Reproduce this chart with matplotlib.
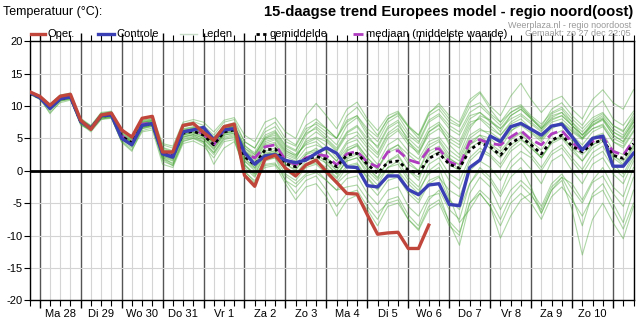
import numpy as np
import matplotlib
matplotlib.use('Agg')
import matplotlib.pyplot as plt

plt.rcParams['font.family'] = ['Liberation Sans', 'DejaVu Sans']

# 6-hourly steps, starting Sunday 27 dec 18:00
day_labels = ['Ma 28', 'Di 29', 'Wo 30', 'Do 31', 'Vr 1', 'Za 2', 'Zo 3',
              'Ma 4', 'Di 5', 'Wo 6', 'Do 7', 'Vr 8', 'Za 9', 'Zo 10']

oper = [12.2, 11.5, 10.1, 11.5, 11.8, 7.8, 6.4, 8.6, 8.9, 6.3,
        5.2, 8.1, 8.4, 2.9, 2.9, 7.0, 7.3, 5.9, 4.7, 6.8,
        7.2, -0.7, -2.4, 1.8, 2.4, 0.4, -0.8, 0.9, 1.65, -0.15,
        -1.8, -3.5, -3.6, -6.8, -9.8, -9.6, -9.5, -12.0, -12.0, -8.4]

controle = [12.1, 11.3, 9.6, 11.1, 11.4, 7.6, 6.5, 8.5, 8.6, 5.0,
            4.0, 7.0, 7.3, 2.6, 2.1, 6.0, 6.3, 6.7, 4.8, 6.3,
            6.5, 2.8, 1.0, 2.3, 2.5, 1.6, 1.25, 1.65, 2.7, 3.55,
            2.7, 0.6, 0.5, -2.3, -2.5, -0.8, -0.8, -2.9, -3.7, -2.2,
            -2.0, -5.2, -5.4, 0.5, 1.65, 5.35, 4.5, 6.8, 7.3, 6.4,
            5.5, 6.9, 7.2, 5.25, 3.2, 5.0, 5.35, 0.7, 0.7, 2.7]

gemiddelde = [12.0, 11.3, 9.8, 11.1, 11.4, 7.6, 6.6, 8.4, 8.6, 5.3,
              4.3, 7.0, 7.3, 2.7, 2.2, 5.8, 6.1, 5.5, 4.0, 6.0,
              6.3, 2.2, 0.9, 3.2, 3.4, 1.1, 0.6, 1.8, 2.2, 1.8,
              0.6, 2.4, 2.7, 1.0, -0.4, 1.3, 1.5, 0.1, -0.4, 1.9,
              2.7, 1.0, 0.4, 3.2, 4.3, 3.7, 2.4, 4.2, 5.2, 4.0,
              2.6, 4.7, 5.5, 3.8, 2.9, 4.2, 4.8, 2.4, 1.9, 4.2]

mediaan = [12.1, 11.4, 9.9, 11.2, 11.5, 7.7, 6.6, 8.5, 8.7, 5.4,
           4.3, 7.2, 7.4, 2.8, 2.3, 6.0, 6.3, 5.7, 4.0, 6.2,
           6.5, 2.6, 2.0, 3.7, 4.0, 1.7, 0.9, 2.0, 2.5, 2.3,
           0.9, 2.6, 3.0, 1.3, 0.6, 2.9, 3.1, 1.7, 1.2, 3.3,
           3.4, 1.4, 0.7, 4.5, 4.8, 4.2, 4.0, 5.2, 6.2, 4.8,
           4.0, 5.7, 6.2, 4.4, 3.0, 4.5, 5.2, 3.0, 2.4, 4.7]

# ensemble members (Leden), read by eye
leden = [
    [12.2, 11.4, 10.0, 11.5, 11.7, 7.9, 6.8, 8.9, 9.1, 6.0, 5.0, 7.8, 8.1, 4.0, 3.5, 7.2, 7.6, 7.0, 5.5, 7.5, 7.9,
     4.5, 3.5, 6.0, 6.8, 4.5, 3.8, 6.5, 7.2, 6.0, 5.0, 7.8, 8.5, 6.5, 5.2, 8.0, 8.8, 6.8, 5.5, 8.5, 9.5,
     7.5, 6.8, 9.8, 10.5, 8.8, 7.5, 9.6, 10.2, 8.5, 7.2, 9.0, 9.8, 8.0, 6.5, 8.2, 9.0, 7.0, 6.2, 8.3],
    [11.8, 11.0, 9.0, 10.5, 10.9, 7.2, 6.2, 8.0, 8.2, 4.6, 3.5, 6.2, 6.6, 1.5, 0.8, 4.6, 5.0, 4.2, 2.5, 4.8, 5.2,
     0.0, -1.8, 1.0, 1.2, -1.5, -2.5, -0.8, -0.3, -1.5, -3.0, -1.2, -0.8, -3.5, -5.2, -3.0, -2.5, -5.5, -7.0, -4.0, -3.5,
     -8.0, -11.5, -5.0, -3.0, -4.5, -7.5, -4.0, -2.2, -3.8, -6.0, -2.5, -1.0, -4.0, -8.5, -3.5, -2.0, -5.0, -8.0, -3.0],
    [12.0, 11.2, 9.7, 11.0, 11.3, 7.5, 6.5, 8.4, 8.5, 5.2, 4.2, 6.9, 7.2, 2.5, 2.0, 5.6, 6.0, 5.8, 4.2, 6.2, 6.5,
     2.5, 1.2, 3.6, 4.0, 1.8, 1.0, 2.8, 3.2, 2.0, 0.8, 3.2, 3.8, 1.5, 0.2, 2.8, 3.5, 1.0, 0.0, 3.0, 3.8,
     1.8, 1.0, 4.0, 5.0, 4.2, 3.0, 5.0, 6.0, 4.5, 3.2, 5.5, 6.2, 4.6, 3.5, 5.2, 5.8, 3.2, 2.5, 5.0],
    [12.1, 11.4, 9.9, 11.3, 11.6, 7.7, 6.4, 8.5, 8.8, 5.6, 4.6, 7.3, 7.7, 2.2, 1.8, 5.2, 5.5, 4.5, 2.8, 5.2, 5.6,
     -0.5, -2.0, 0.8, 1.0, -0.8, -2.0, -0.5, 0.2, -1.5, -3.0, -2.5, -2.2, -4.5, -6.5, -5.0, -4.5, -7.5, -9.2, -6.0, -5.0,
     -8.5, -10.0, -3.5, -1.0, -2.5, -6.0, -3.0, -1.5, -3.0, -5.5, -2.0, -0.5, -2.8, -5.0, -1.8, -0.8, -3.5, -5.5, -1.0],
    [11.9, 11.2, 9.5, 10.9, 11.2, 7.4, 6.7, 8.2, 8.4, 5.0, 3.9, 6.6, 7.0, 3.0, 2.6, 6.2, 6.5, 6.5, 5.2, 6.8, 7.0,
     4.0, 2.5, 5.0, 5.5, 3.2, 2.2, 4.2, 5.0, 3.8, 2.0, 4.5, 5.5, 3.5, 2.0, 5.0, 6.2, 4.0, 2.8, 5.5, 6.5,
     4.5, 3.5, 7.0, 8.2, 7.0, 5.5, 7.2, 8.0, 6.5, 5.0, 6.8, 7.5, 6.0, 4.8, 6.5, 7.2, 5.0, 4.2, 6.8],
    [12.0, 11.3, 9.8, 11.2, 11.5, 7.8, 6.9, 8.8, 8.9, 5.5, 4.5, 7.5, 7.8, 3.5, 2.9, 6.8, 7.2, 6.2, 4.5, 6.5, 6.8,
     3.2, 2.0, 4.8, 5.2, 3.0, 2.4, 5.5, 6.8, 5.5, 4.0, 7.0, 8.2, 5.5, 3.5, 6.5, 7.5, 4.5, 2.5, 6.0, 7.2,
     4.0, 2.5, 6.5, 8.5, 7.8, 6.0, 8.5, 9.5, 8.0, 6.5, 8.8, 9.5, 7.5, 5.5, 7.0, 8.0, 5.5, 4.5, 7.5],
    [12.1, 11.3, 9.4, 10.8, 11.2, 7.3, 6.3, 8.1, 8.3, 4.8, 3.8, 6.5, 6.8, 1.8, 1.2, 5.0, 5.3, 4.8, 3.2, 5.5, 5.8,
     1.0, -0.5, 2.2, 2.5, 0.0, -1.0, 1.0, 1.5, 0.2, -1.2, 0.8, 1.2, -1.0, -2.8, -0.5, 0.0, -3.0, -4.5, -1.5, -0.8,
     -4.5, -6.0, -2.0, 0.0, -1.5, -4.0, -1.0, 0.5, -2.5, -6.5, -3.0, -1.5, -6.0, -13.0, -7.5, -5.0, -8.0, -10.5, -5.5],
    [12.2, 11.5, 10.2, 11.6, 11.9, 8.0, 6.8, 8.7, 9.0, 5.8, 4.8, 7.6, 7.9, 3.2, 2.6, 6.5, 6.8, 6.0, 4.6, 6.6, 7.0,
     3.5, 2.2, 5.2, 6.0, 3.8, 3.0, 6.0, 7.5, 6.5, 5.0, 8.5, 9.8, 7.5, 5.5, 8.0, 9.0, 6.8, 5.0, 8.8, 10.4,
     8.5, 7.5, 11.0, 12.2, 10.0, 8.5, 11.5, 13.5, 11.0, 9.0, 10.8, 11.5, 9.5, 8.0, 11.0, 12.5, 10.5, 9.5, 12.5],
    [11.9, 11.1, 9.6, 10.9, 11.1, 7.4, 6.4, 8.2, 8.3, 5.0, 4.0, 6.8, 7.0, 2.2, 1.6, 5.3, 5.6, 5.0, 3.5, 5.7, 6.0,
     1.5, 0.3, 2.8, 3.0, 0.5, -0.5, 1.5, 2.0, 1.2, -0.5, 1.5, 2.0, 0.0, -1.5, 0.5, 1.0, -1.5, -3.0, -0.5, 0.5,
     -4.0, -8.0, -6.0, -3.5, -5.5, -10.4, -7.0, -4.5, -3.5, -6.6, -3.0, -1.0, -2.0, -4.5, -1.5, 0.5, -2.5, -4.0, 0.5],
    [12.0, 11.3, 9.9, 11.2, 11.4, 7.7, 6.7, 8.6, 8.7, 5.4, 4.4, 7.2, 7.5, 2.9, 2.4, 6.0, 6.4, 5.9, 4.4, 6.4, 6.7,
     2.8, 1.5, 4.0, 4.4, 2.2, 1.5, 3.5, 4.0, 3.2, 1.5, 4.2, 4.8, 2.8, 1.0, 4.0, 5.0, 3.0, 1.8, 4.5, 5.2,
     3.2, 2.0, 5.5, 6.5, 5.5, 4.2, 6.2, 7.0, 5.8, 4.5, 6.5, 7.3, 5.5, 4.0, 6.0, 6.8, 4.5, 3.5, 6.0],
    [12.1, 11.3, 9.3, 10.9, 11.3, 7.4, 6.2, 8.3, 8.5, 5.1, 3.7, 6.7, 7.1, 2.1, 1.0, 4.8, 5.2, 4.4, 2.8, 5.0, 5.4,
     0.5, -1.0, 1.8, 2.0, -1.5, -3.5, -1.5, -0.8, -3.0, -5.5, -3.5, -3.0, -5.5, -7.5, -4.5, -4.0, -6.8, -8.5, -4.5, -3.0,
     -6.0, -7.5, -2.0, 0.5, -1.0, -3.5, 0.5, 2.0, 0.2, -2.0, 1.5, 2.5, 0.0, -2.0, 1.0, 2.0, -0.5, -2.0, 1.5],
    [12.3, 11.6, 10.3, 11.7, 12.0, 8.1, 7.0, 9.0, 9.2, 6.2, 5.3, 8.1, 8.5, 4.2, 3.8, 7.5, 7.9, 7.5, 6.0, 7.8, 8.2,
     5.5, 4.5, 7.5, 8.2, 6.0, 5.0, 8.5, 10.4, 8.5, 6.5, 9.5, 10.6, 8.0, 6.2, 8.5, 9.2, 7.0, 5.5, 9.0, 10.0,
     8.0, 7.0, 10.5, 12.0, 9.5, 7.5, 9.0, 10.0, 8.2, 6.8, 9.5, 10.5, 8.5, 7.0, 9.5, 10.8, 8.0, 7.0, 9.2],
    [11.9, 11.2, 9.6, 11.0, 11.2, 7.5, 6.5, 8.3, 8.5, 5.1, 4.1, 6.9, 7.2, 2.4, 1.8, 5.5, 5.9, 5.3, 3.8, 5.8, 6.1,
     1.8, 0.5, 2.5, 2.8, 0.2, -0.8, 0.8, 1.2, 0.0, -1.8, 0.5, 1.0, -1.2, -3.0, -0.8, 0.0, -2.0, -3.5, 0.0, 1.2,
     -1.5, -2.8, 1.5, 3.0, 2.2, 0.5, 3.0, 4.2, 2.5, 0.5, 3.0, 4.0, 2.0, 0.2, 2.8, 3.8, 1.0, -0.5, 2.5],
    [12.0, 11.2, 9.5, 10.8, 11.0, 7.2, 6.0, 7.9, 8.1, 4.5, 3.2, 6.0, 6.3, 1.0, 0.5, 4.2, 4.6, 3.8, 2.0, 4.5, 4.8,
     -0.2, -1.5, 0.5, 0.8, -2.0, -4.5, -2.5, -2.0, -4.0, -7.0, -4.5, -3.8, -6.0, -8.5, -5.5, -5.0, -7.5, -9.0, -5.5, -4.5,
     -7.8, -9.5, -5.0, -3.5, -5.5, -8.5, -5.0, -3.5, -5.0, -7.5, -4.0, -2.5, -4.5, -7.0, -4.0, -3.0, -6.0, -9.0, -5.0],
    [12.1, 11.4, 10.0, 11.3, 11.6, 7.8, 6.8, 8.6, 8.8, 5.6, 4.7, 7.5, 7.7, 3.3, 2.8, 6.4, 6.7, 6.3, 4.8, 6.7, 7.0,
     3.8, 2.8, 5.5, 6.2, 4.0, 3.2, 5.8, 6.5, 5.0, 3.5, 6.0, 7.0, 5.0, 3.8, 6.8, 7.8, 5.5, 4.2, 7.5, 8.5,
     6.5, 5.5, 8.5, 9.0, 7.5, 6.5, 8.5, 9.5, 8.0, 6.5, 8.0, 8.5, 7.0, 5.5, 7.5, 8.2, 6.0, 5.0, 7.8],
    [11.9, 11.2, 9.8, 11.0, 11.2, 7.5, 6.6, 8.3, 8.4, 5.0, 4.0, 6.8, 7.0, 2.4, 2.0, 5.5, 5.8, 5.2, 3.8, 5.8, 6.1,
     1.5, 0.0, 2.5, 2.8, 0.5, -0.5, 1.0, 1.5, 0.5, -1.0, 1.8, 2.5, 0.5, -1.2, 1.5, 2.5, 0.0, -1.5, 2.5, 3.5,
     1.5, 0.2, 4.0, 5.5, 5.0, 3.5, 6.0, 7.5, 6.5, 5.0, 7.5, 8.0, 6.5, 5.0, 7.0, 7.8, 5.5, 4.5, 7.0],
    [12.0, 11.3, 8.8, 10.7, 11.1, 7.0, 6.3, 8.0, 8.2, 4.4, 3.0, 6.5, 6.9, 1.8, 0.8, 4.5, 5.0, 4.5, 1.0, 3.5, 4.5,
     0.8, -0.5, 2.5, 3.2, 1.0, 0.0, 2.5, 3.5, 2.0, 0.0, 3.0, 4.0, 2.0, 0.2, 3.2, 4.0, 1.5, 0.0, 3.5, 4.5,
     2.0, 0.8, 4.5, 5.5, 4.0, 2.5, 4.8, 5.8, 4.0, 2.0, 4.5, 5.5, 3.5, 1.5, 4.0, 5.0, 2.5, 1.0, 3.8],
    [12.1, 11.4, 9.7, 11.4, 11.7, 7.6, 6.6, 8.5, 8.8, 5.5, 4.4, 7.4, 7.8, 3.0, 2.5, 6.3, 6.6, 6.0, 4.2, 6.4, 6.9,
     3.0, 1.8, 4.5, 5.0, 2.8, 2.0, 4.5, 5.2, 4.5, 3.0, 5.5, 6.0, 4.0, 2.5, 5.5, 6.5, 4.5, 3.0, 6.0, 7.0,
     5.0, 4.0, 7.5, 8.0, 6.5, 5.5, 7.5, 8.5, 7.2, 6.0, 7.8, 8.5, 7.0, 5.5, 7.2, 8.0, 6.0, 5.2, 7.5],
    [12.0, 11.3, 9.7, 11.1, 11.3, 7.6, 6.5, 8.4, 8.6, 5.3, 4.2, 7.0, 7.3, 2.6, 2.1, 5.7, 6.0, 5.4, 3.9, 5.9, 6.2,
     2.0, 0.5, 3.0, 3.5, 1.0, 0.2, 2.0, 2.5, 1.5, 0.0, 2.0, 2.8, 0.5, -1.0, 1.5, 2.2, 0.0, -1.0, 2.0, 3.0,
     1.0, 0.0, 3.5, 4.5, 3.5, 2.0, 4.0, 5.0, 3.5, 2.0, 4.5, 5.2, 3.5, 2.5, 4.0, 4.8, 2.2, 1.5, 4.0],
    [12.1, 11.3, 9.8, 11.2, 11.5, 7.7, 6.7, 8.5, 8.7, 5.4, 4.5, 7.3, 7.6, 3.0, 2.6, 6.2, 6.5, 6.0, 4.5, 6.5, 6.8,
     3.5, 2.5, 5.0, 5.8, 3.5, 2.5, 4.0, 4.5, 3.0, 1.5, 3.5, 4.2, 2.0, 0.5, 3.0, 4.0, 2.5, 1.2, 4.0, 4.8,
     2.5, 1.5, 5.0, 6.2, 6.0, 4.8, 6.5, 7.5, 6.0, 4.8, 6.8, 7.5, 6.2, 5.0, 6.5, 7.0, 4.5, 3.8, 6.2],
    [11.9, 11.2, 9.5, 10.9, 11.2, 7.4, 6.4, 8.2, 8.4, 5.0, 3.9, 6.7, 7.0, 2.0, 1.5, 5.2, 5.6, 5.0, 3.4, 5.5, 5.8,
     1.0, -0.8, 1.5, 2.0, -0.5, -1.5, 0.5, 1.0, -0.5, -2.0, -0.5, 0.2, -2.0, -3.8, -1.5, -1.0, -3.5, -5.0, -2.0, -1.0,
     -3.0, -4.0, 0.0, 1.5, 0.5, -1.5, 1.5, 3.0, 2.0, 0.0, 2.5, 3.5, 1.5, -0.5, 2.0, 3.0, 0.5, -1.0, 2.0],
    [12.2, 11.5, 10.1, 11.4, 11.8, 7.9, 6.9, 8.8, 9.0, 5.8, 4.9, 7.7, 8.0, 3.6, 3.1, 6.8, 7.1, 6.6, 5.0, 7.0, 7.4,
     4.5, 3.5, 6.5, 7.5, 5.0, 4.0, 7.0, 8.0, 6.5, 5.0, 7.5, 8.5, 6.0, 4.5, 7.5, 8.5, 6.0, 4.5, 7.8, 8.8,
     7.0, 6.0, 9.0, 10.0, 8.5, 7.0, 9.0, 9.8, 8.2, 6.5, 8.5, 9.0, 7.0, 5.0, 7.5, 8.5, 6.5, 5.5, 8.0],
    [12.0, 11.3, 9.6, 11.0, 11.4, 7.5, 6.4, 8.3, 8.6, 5.2, 4.2, 7.1, 7.4, 2.5, 1.9, 5.9, 6.2, 5.6, 4.1, 6.1, 6.4,
     2.5, 1.0, 3.5, 4.2, 1.5, 0.5, 2.5, 3.0, 1.0, -0.5, 1.5, 2.0, -0.5, -2.2, 0.5, 1.5, -1.0, -2.5, 1.0, 2.0,
     -0.5, -1.5, 2.0, 3.5, 2.5, 1.0, 3.5, 4.8, 3.5, 2.0, 4.2, 5.0, 3.0, 1.5, 3.5, 4.5, 2.0, 0.8, 3.5],
    [12.1, 11.4, 9.9, 11.3, 11.5, 7.6, 6.6, 8.5, 8.8, 5.5, 4.4, 7.2, 7.5, 2.8, 2.3, 6.1, 6.4, 5.8, 4.2, 6.3, 6.6,
     3.0, 1.8, 4.2, 4.8, 2.5, 1.8, 4.8, 6.0, 4.8, 3.2, 5.8, 6.8, 4.5, 2.8, 5.8, 7.0, 5.0, 3.5, 6.5, 7.5,
     5.5, 4.5, 8.0, 9.0, 7.8, 6.5, 8.0, 8.8, 7.5, 6.2, 8.2, 9.0, 7.5, 6.0, 7.8, 8.8, 7.0, 6.0, 8.8],
]

for k, m in enumerate(leden):
    assert len(m) == 60, (k, len(m))

W, H = 639, 321
fig = plt.figure(figsize=(W / 100, H / 100), dpi=100)
x0, x1, ytop, ybot = 29.5, 633.5, 41.2, 300.3
ax = fig.add_axes([x0 / W, 1 - ybot / H, (x1 - x0) / W, (ybot - ytop) / H])

n = 60
steps = np.arange(n)
ax.set_xlim(0, n - 1)
ax.set_ylim(-20, 20)

# grid: 6-hourly light lines, daily dark lines, 5 degree horizontal lines
for s in steps:
    major = (s - 1) % 4 == 0
    ax.axvline(s, color='#555555' if major else '#d4d4d4', lw=1.0 if major else 0.8, zorder=1)
for v in range(-15, 20, 5):
    if v != 0:
        ax.axhline(v, color='#d4d4d4', lw=0.8, zorder=1)
ax.axhline(0, color='black', lw=2.0, zorder=8)

for m in leden:
    ax.plot(np.arange(len(m)), m, color='#4ca83a', lw=0.8, alpha=0.45, zorder=2)

ax.plot(np.arange(len(mediaan)), mediaan, color='#b03cc0', lw=2.0, dashes=(4, 2), zorder=4)
ax.plot(np.arange(len(gemiddelde)), gemiddelde, color='black', lw=2.0, dashes=(1.2, 1.2), zorder=5)
ax.plot(np.arange(len(controle)), controle, color='#3a3fb4', lw=2.4, zorder=6)
ax.plot(np.arange(len(oper)), oper, color='#c0463c', lw=2.4, zorder=7)

ax.set_yticks(range(-20, 21, 5))
ax.set_yticklabels([str(v) for v in range(-20, 21, 5)], fontsize=8)
ax.tick_params(axis='y', direction='out', length=4, width=0.8, pad=1)

major_ticks = [1 + 4 * k for k in range(15)]
ax.set_xticks(major_ticks)
ax.set_xticklabels([])
ax.set_xticks(steps, minor=True)
ax.tick_params(axis='x', which='major', direction='out', length=6, width=1)
ax.tick_params(axis='x', which='minor', direction='out', length=4, width=0.8)
ax.tick_params(axis='x', which='both', top=True)
for k, lab in enumerate(day_labels):
    ax.text(3 + 4 * k, -21.3, lab, ha='center', va='top', fontsize=8)

for sp in ax.spines.values():
    sp.set_color('black')
    sp.set_linewidth(1)

# header texts
def px(x, y):
    return x / W, 1 - y / H

fig.text(*px(3, 12), 'Temperatuur (°C):', fontsize=9, va='center', ha='left')
fig.text(*px(633, 12), '15-daagse trend Europees model - regio noord(oost)',
         fontsize=10.6, fontweight='bold', va='center', ha='right')
fig.text(*px(631, 25), 'Weerplaza.nl - regio noordoost', fontsize=6.5, color='#999999',
         va='center', ha='right')
fig.text(*px(631, 34), 'Gemaakt: zo 27 dec 22:05', fontsize=6.5, color='#999999',
         va='center', ha='right')

# legend row
legend_items = [
    (31.5, 44.5, 47.5, 'Oper.', dict(color='#c0463c', lw=2.4)),
    (97.5, 113.5, 116.5, 'Controle', dict(color='#3a3fb4', lw=2.4)),
    (180, 197, 201, 'Leden', dict(color='#c8dcc8', lw=1)),
    (256, 267, 270, 'gemiddelde', dict(color='black', lw=2.0, dashes=(1.2, 1.2))),
    (353, 363, 366, 'mediaan (middelste waarde)', dict(color='#b03cc0', lw=2.0, dashes=(4, 2))),
]
for xa, xb, xt, label, style in legend_items:
    fig.add_artist(plt.Line2D([xa / W, xb / W], [1 - 34.3 / H] * 2, transform=fig.transFigure, **style))
    fig.text(*px(xt, 34.3), label, fontsize=8, va='center', ha='left')

fig.savefig('out.png', dpi=100)
